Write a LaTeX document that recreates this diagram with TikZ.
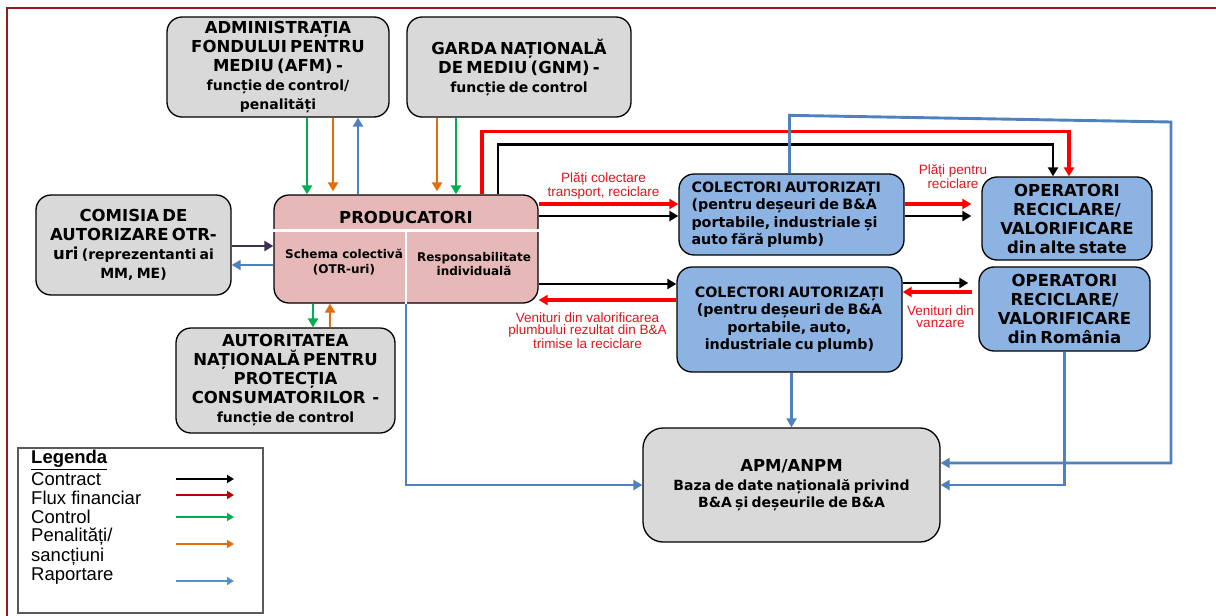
\documentclass[tikz,border=0pt]{standalone}
\usepackage{fontspec}
\setmainfont{DejaVu Sans}
\newfontfamily\lblfont{Liberation Sans}
\usetikzlibrary{arrows.meta}
\definecolor{boxgray}{RGB}{217,217,217}
\definecolor{prodpink}{RGB}{230,185,184}
\definecolor{boxblue}{RGB}{141,179,226}
\definecolor{repblue}{RGB}{79,129,189}
\definecolor{ctrlgreen}{RGB}{0,176,80}
\definecolor{penorange}{RGB}{228,108,10}
\definecolor{finred}{RGB}{255,0,0}
\definecolor{labelred}{RGB}{224,20,30}
\definecolor{legred}{RGB}{192,0,0}
\definecolor{legblue}{RGB}{85,142,213}
\definecolor{comviolet}{RGB}{64,49,81}
\definecolor{framered}{RGB}{150,25,25}
\definecolor{legendgray}{RGB}{90,90,90}
\newcommand{\bigb}{\fontsize{16.5}{19}\selectfont\bfseries}
\newcommand{\midb}{\fontsize{14}{19}\selectfont\bfseries}
\newcommand{\colb}{\fontsize{14.3}{17.5}\selectfont\bfseries}
\newcommand{\smallb}{\fontsize{12}{14.5}\selectfont\bfseries}
\newcommand{\redlbl}{\lblfont\fontsize{13.5}{12.5}\selectfont}
\newcommand{\legf}{\lblfont\fontsize{18.5}{20}\selectfont}
\begin{document}
\begin{tikzpicture}[x=1pt,y=-1pt,
    panel/.style={draw=black,line width=1.3pt,rounded corners=15pt,align=center,inner sep=0pt},
    graypanel/.style={panel,fill=boxgray},
    bluepanel/.style={panel,fill=boxblue},
    headed/.style={-{Triangle[length=9pt,width=10pt]}},
    contract/.style={headed,draw=black,line width=2.9pt},
    fin/.style={headed,draw=finred,line width=3.3pt},
    ctrl/.style={headed,draw=ctrlgreen,line width=2.7pt},
    pen/.style={headed,draw=penorange,line width=2.7pt},
    report/.style={headed,draw=repblue,line width=2.9pt},
    divider/.style={draw=white,line width=2.5pt},
    redlabel/.style={font=\redlbl,text=labelred,align=center,inner sep=1pt},
    legarrow/.style={line width=2.4pt,-{Triangle[length=7pt,width=8pt]}}]
    \useasboundingbox (0,0) rectangle (1216,616);
    \draw[framered,line width=2pt] (7,616) -- (7,8) -- (1216,8);

    \node[graypanel,minimum width=222pt,minimum height=100pt,text width=215pt] (afm) at (278,67)
        {\bigb ADMINISTRAȚIA\\ FONDULUI PENTRU\\ MEDIU (AFM) -\\ \midb funcție de control/\\ penalități\par};
    \node[graypanel,minimum width=224pt,minimum height=100pt,text width=220pt] (gnm) at (519,67)
        {\bigb GARDA NAȚIONALĂ\\ DE MEDIU (GNM) -\\ \midb funcție de control\par};
    \node[graypanel,minimum width=195pt,minimum height=100pt,text width=190pt] (comisia) at (133.5,245)
        {\bigb COMISIA DE\\ AUTORIZARE OTR-\\ uri {\midb (reprezentanti ai}\\ \midb MM, ME)\par};
    \node[panel,fill=prodpink,minimum width=264pt,minimum height=108pt] (prod) at (406,249) {};
    \node[graypanel,minimum width=219pt,minimum height=105pt,text width=215pt] (anpc) at (285.5,380.5)
        {\bigb AUTORITATEA\\ NAȚIONALĂ PENTRU\\ PROTECȚIA\\ CONSUMATORILOR~ -\\ \midb funcție de control\par};
    \node[bluepanel,minimum width=225pt,minimum height=81pt,text width=200pt,align=left] (colA) at (791.5,214.5)
        {\colb COLECTORI AUTORIZAȚI\\ (pentru deșeuri de B\&A\\ portabile, industriale și\\ auto fără plumb)\par};
    \node[bluepanel,minimum width=170pt,minimum height=83pt,text width=165pt] (opExt) at (1067,218.5)
        {\bigb OPERATORI\\ RECICLARE/\\ VALORIFICARE\\ din alte state\par};
    \node[bluepanel,minimum width=225pt,minimum height=105pt,text width=220pt] (colB) at (789.5,319.5)
        {\colb COLECTORI AUTORIZAȚI\\ (pentru deșeuri de B\&A\\ portabile, auto,\\ industriale cu plumb)\par};
    \node[bluepanel,minimum width=171pt,minimum height=84pt,text width=165pt] (opRo) at (1064.5,309)
        {\bigb OPERATORI\\ RECICLARE/\\ VALORIFICARE\\ din România\par};
    \node[graypanel,minimum width=297pt,minimum height=114pt,text width=285pt,rounded corners=20pt] (apm) at (791.5,485)
        {\bigb APM/ANPM\\ \midb Baza de date națională privind\\ B\&A și deșeurile de B\&A\baselineskip=17.5pt\par};

    \draw[divider] ([yshift=-36pt]prod.north west) -- ([yshift=-36pt]prod.north east);
    \draw[divider] ([yshift=-36pt]prod.north) -- (prod.south);
    \node (prodT) at ([yshift=-23pt]prod.north) {\bigb PRODUCATORI};
    \node[align=center,font=\smallb] (schema) at (344,262) {Schema colectivă\\ (OTR-uri)};
    \node[align=center,font=\smallb] (indiv) at (474,264) {Responsabilitate\\ individuală};

    \draw[ctrl] ([xshift=29pt]afm.south) -- ([xshift=29pt]afm.south |- prod.north);
    \draw[pen,shorten >=3pt] ([xshift=55pt]afm.south) -- ([xshift=55pt]afm.south |- prod.north);
    \draw[report] ([xshift=80pt]afm.south |- prod.north) -- ([xshift=80pt]afm.south);
    \draw[pen,shorten >=3pt] ([xshift=-82pt]gnm.south) -- ([xshift=-82pt]gnm.south |- prod.north);
    \draw[ctrl] ([xshift=-63pt]gnm.south) -- ([xshift=-63pt]gnm.south |- prod.north);
    \draw[headed,draw=comviolet,line width=2.9pt] ([yshift=-1pt]comisia.east) -- ([yshift=-1pt]comisia.east -| prod.west);
    \draw[report] ([yshift=-16pt]prod.west) -- ([yshift=-16pt]prod.west -| comisia.east);
    \draw[ctrl] ([xshift=-93pt]prod.south) -- ([xshift=-93pt]prod.south |- anpc.north);
    \draw[pen] ([xshift=-76pt]prod.south |- anpc.north) -- ([xshift=-76pt]prod.south);

    \draw[fin] ([xshift=76pt]prod.north) -- ++(0,-63) -| ([xshift=2pt]opExt.north);
    \draw[contract] ([xshift=92pt]prod.north) -- ++(0,-50) -| ([xshift=-14pt]opExt.north);
    \draw[fin] ([yshift=45pt]prod.east) -- ([yshift=45pt]prod.east -| colA.west)
        node[redlabel,midway,above=2pt,xshift=-5pt] {Plăți colectare\\ transport, reciclare};
    \draw[contract] ([yshift=33pt]prod.east) -- ([yshift=33pt]prod.east -| colA.west);
    \draw[fin,shorten >=10pt] ([yshift=10.5pt]colA.east) -- ([yshift=10.5pt]colA.east -| opExt.west)
        node[redlabel,midway,above=13pt,xshift=10pt] {Plăți pentru\\ reciclare};
    \draw[contract,shorten >=10pt] ([yshift=-1.5pt]colA.east) -- ([yshift=-1.5pt]colA.east -| opExt.west);
    \draw[contract] ([yshift=-35pt]prod.east) -- ([yshift=-35pt]prod.east -| colB.west);
    \draw[fin] ([yshift=19.5pt]colB.west) -- ([yshift=19.5pt]colB.west -| prod.east)
        node[redlabel,midway,below=10pt,xshift=-20pt] {Venituri din valorificarea\\ plumbului rezultat din B\&A\\ trimise la reciclare};
    \draw[contract,shorten >=10pt] ([yshift=36.5pt]colB.east) -- ([yshift=36.5pt]colB.east -| opRo.west);
    \draw[fin,shorten <=6pt] ([yshift=17pt]opRo.west) -- ([yshift=17pt]opRo.west -| colB.east)
        node[redlabel,midway,below=11pt] {Venituri din\\ vanzare};

    \coordinate (rtop) at (1171,122);
    \draw[report] ([xshift=-2pt]colA.north) -- ++(0,-58) -- (rtop) |- ([yshift=22pt]apm.east);
    \draw[report] ([xshift=2pt]colB.south) -- ([xshift=2pt]colB.south |- apm.north);
    \draw[report] (opRo.south) |- (apm.east);
    \draw[report] (prod.south) |- (apm.west);

    \draw[legendgray,line width=1.3pt] (18,448) rectangle (263,613);
    \node[anchor=west,inner sep=0pt,font=\legf\bfseries] (lgHead) at (31,460) {\underline{Legenda}};
    \foreach \y/\nm/\txt in {479/lgContract/Contract,498/lgFin/Flux financiar,517/lgCtrl/Control,576/lgRep/Raportare}
        \node[anchor=west,inner sep=0pt,font=\legf] (\nm) at (31,\y) {\txt};
    \node[anchor=west,inner sep=0pt,font=\legf,align=left] (lgPen) at (31,547) {Penalități/\\ sancțiuni};
    \foreach \y/\col in {479/black,495/legred,517/ctrlgreen,544/penorange,581/legblue}
        \draw[legarrow,draw=\col] (176,\y) -- (234,\y);
\end{tikzpicture}
\end{document}
